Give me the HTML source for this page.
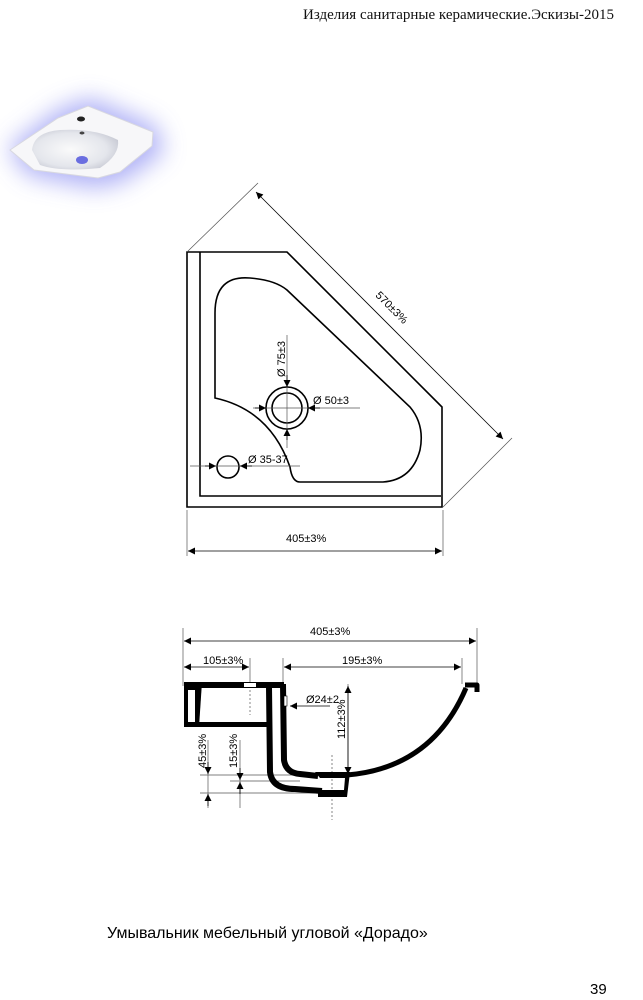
<!DOCTYPE html>
<html><head><meta charset="utf-8"><style>
html,body{margin:0;padding:0;background:#fff;}
body{width:643px;height:1000px;position:relative;overflow:hidden;}
svg{position:absolute;left:0;top:0;}
</style></head><body>
<svg width="643" height="1000" viewBox="0 0 643 1000" xmlns="http://www.w3.org/2000/svg">
<defs>
<filter id="bl" x="-50%" y="-50%" width="200%" height="200%"><feGaussianBlur stdDeviation="12"/></filter>
<radialGradient id="bowl" cx="0.45" cy="0.5" r="0.6"><stop offset="0" stop-color="#fafafa"/><stop offset="0.7" stop-color="#e4e6ec"/><stop offset="1" stop-color="#c8cad4"/></radialGradient>
<marker id="ar" viewBox="0 0 10 10" refX="10" refY="5" markerWidth="9" markerHeight="7" orient="auto-start-reverse" markerUnits="userSpaceOnUse"><path d="M0,0 L10,5 L0,10 z" fill="#000"/></marker>
</defs>

<text x="303" y="19" font-family="Liberation Serif, serif" font-size="15" fill="#111">Изделия санитарные керамические.Эскизы-2015</text>

<g>
<polygon points="8,148 58,110 90,98 156,126 164,152 122,182 95,188 28,175" fill="#9a9cf4" filter="url(#bl)" opacity="0.8"/>
<polygon points="10,150 58,118 88,106 153,132 152,146 120,172 98,178 34,170" fill="#f7f7f9" stroke="#d8d8e0"/>
<path d="M32,150 Q34,132 60,130 Q95,128 118,140 Q120,155 100,168 Q60,172 40,165 Z" fill="url(#bowl)"/>
<ellipse cx="82" cy="160" rx="6" ry="4" fill="#6a6ee0"/>
<ellipse cx="81" cy="119" rx="4" ry="2.5" fill="#222"/>
<ellipse cx="82" cy="133" rx="2.5" ry="1.5" fill="#444"/>
</g>

<g fill="none" stroke="#000" stroke-width="1.6">
<polygon points="187,252 287,252 442,407 442,507 187,507"/>
<polyline points="200,252 200,496 441,496"/>
<path d="M215,398 L215,313 Q215,275 250,278 Q275,280 287,290 L410,407 Q425,425 420,450 Q412,480 383,482 L300,482 Q292,482 290,467 Q270,410 215,398 Z"/>
<circle cx="287" cy="408" r="21"/>
<circle cx="287" cy="408" r="15"/>
<circle cx="228" cy="467" r="11"/>
</g>
<g stroke="#555" stroke-width="0.7" fill="none">
<line x1="287" y1="335" x2="287" y2="448"/>
<line x1="253" y1="408" x2="360" y2="408"/>
<line x1="190" y1="466" x2="300" y2="466"/>
<line x1="187" y1="252" x2="258" y2="183"/>
<line x1="443" y1="507" x2="512" y2="438"/>
<line x1="187" y1="510" x2="187" y2="556"/>
<line x1="443" y1="510" x2="443" y2="556"/>
</g>
<g stroke="#000" stroke-width="0.8" fill="none">
<line x1="256" y1="192" x2="503" y2="439" marker-start="url(#ar)" marker-end="url(#ar)"/>
<line x1="188" y1="551" x2="442" y2="551" marker-start="url(#ar)" marker-end="url(#ar)"/>
<line x1="287" y1="375" x2="287" y2="387" marker-end="url(#ar)"/>
<line x1="287" y1="440" x2="287" y2="429" marker-end="url(#ar)"/>
<line x1="255" y1="408" x2="266" y2="408" marker-end="url(#ar)"/>
<line x1="320" y1="408" x2="308" y2="408" marker-end="url(#ar)"/>
<line x1="205" y1="466" x2="216" y2="466" marker-end="url(#ar)"/>
<line x1="252" y1="466" x2="240" y2="466" marker-end="url(#ar)"/>
</g>
<g font-family="Liberation Sans, sans-serif" font-size="11" fill="#000">
<text x="372" y="303" transform="rotate(45 382 303)">570±3%</text>
<text x="286" y="542">405±3%</text>
<text x="313" y="404">Ø 50±3</text>
<text x="248" y="463">Ø 35-37</text>
<text x="0" y="0" transform="translate(285,377) rotate(-90)">Ø 75±3</text>
</g>

<g stroke="#555" stroke-width="0.7" fill="none">
<line x1="183" y1="628" x2="183" y2="686"/>
<line x1="477" y1="628" x2="477" y2="686"/>
<line x1="283" y1="658" x2="283" y2="684"/>
<line x1="462" y1="658" x2="462" y2="684"/>
<line x1="250" y1="658" x2="250" y2="682"/>
<line x1="250" y1="690" x2="250" y2="715" stroke-dasharray="2,2"/>
<line x1="332" y1="755" x2="332" y2="820" stroke-dasharray="2,2"/>
<line x1="200" y1="775" x2="300" y2="775"/>
<line x1="230" y1="781" x2="300" y2="781"/>
<line x1="200" y1="793" x2="322" y2="793"/>
<line x1="208" y1="740" x2="208" y2="808"/>
<line x1="240" y1="740" x2="240" y2="808"/>
<line x1="348" y1="684" x2="348" y2="775"/>
</g>
<g stroke="#000" stroke-width="0.8" fill="none">
<line x1="184" y1="641" x2="476" y2="641" marker-start="url(#ar)" marker-end="url(#ar)"/>
<line x1="184" y1="667" x2="249" y2="667" marker-start="url(#ar)" marker-end="url(#ar)"/>
<line x1="284" y1="667" x2="461" y2="667" marker-start="url(#ar)" marker-end="url(#ar)"/>
<line x1="348" y1="686" x2="348" y2="774" marker-start="url(#ar)" marker-end="url(#ar)"/>
<line x1="208" y1="762" x2="208" y2="774" marker-end="url(#ar)"/>
<line x1="208" y1="806" x2="208" y2="794" marker-end="url(#ar)"/>
<line x1="240" y1="768" x2="240" y2="780" marker-end="url(#ar)"/>
<line x1="240" y1="794" x2="240" y2="782" marker-end="url(#ar)"/>
<line x1="330" y1="706" x2="290" y2="706" marker-end="url(#ar)"/>
</g>
<g fill="#000">
<rect x="184" y="682" width="100" height="6"/>
<polygon points="184,682 202,682 199,727 184,727"/>
<rect x="184" y="722" width="86" height="5"/>
</g>
<rect x="188" y="690" width="7" height="32" fill="#fff"/>
<rect x="244" y="683" width="12" height="4" fill="#fff"/>
<g fill="none" stroke="#000" stroke-linejoin="round">
<path d="M269,687 L270,772 Q272,789 295,789 L322,791" stroke-width="6"/>
<path d="M283,684 L284,760 Q286,773 300,774 L318,776" stroke-width="6"/>
<path d="M347,775 Q432,768 466,688" stroke-width="5"/>
<path d="M465,685 L477,685 L477,692" stroke-width="5"/>
</g>
<polygon points="315,772 350,772 347,797 318,797 318,790 344,790 345,778 320,778" fill="#000"/>
<rect x="284" y="696" width="3" height="10" fill="#fff" stroke="#000" stroke-width="0.6"/>
<g font-family="Liberation Sans, sans-serif" font-size="11" fill="#000">
<text x="310" y="635">405±3%</text>
<text x="203" y="664">105±3%</text>
<text x="342" y="664">195±3%</text>
<text x="306" y="703">Ø24±2</text>
<text transform="translate(345,739) rotate(-90)">112±3%</text>
<text transform="translate(206,768) rotate(-90)">45±3%</text>
<text transform="translate(237,768) rotate(-90)">15±3%</text>
</g>

<text x="107" y="938" font-family="Liberation Sans, sans-serif" font-size="16" fill="#000">Умывальник мебельный угловой «Дорадо»</text>
<text x="590" y="994" font-family="Liberation Sans, sans-serif" font-size="15" fill="#000">39</text>
</svg>
</body></html>
